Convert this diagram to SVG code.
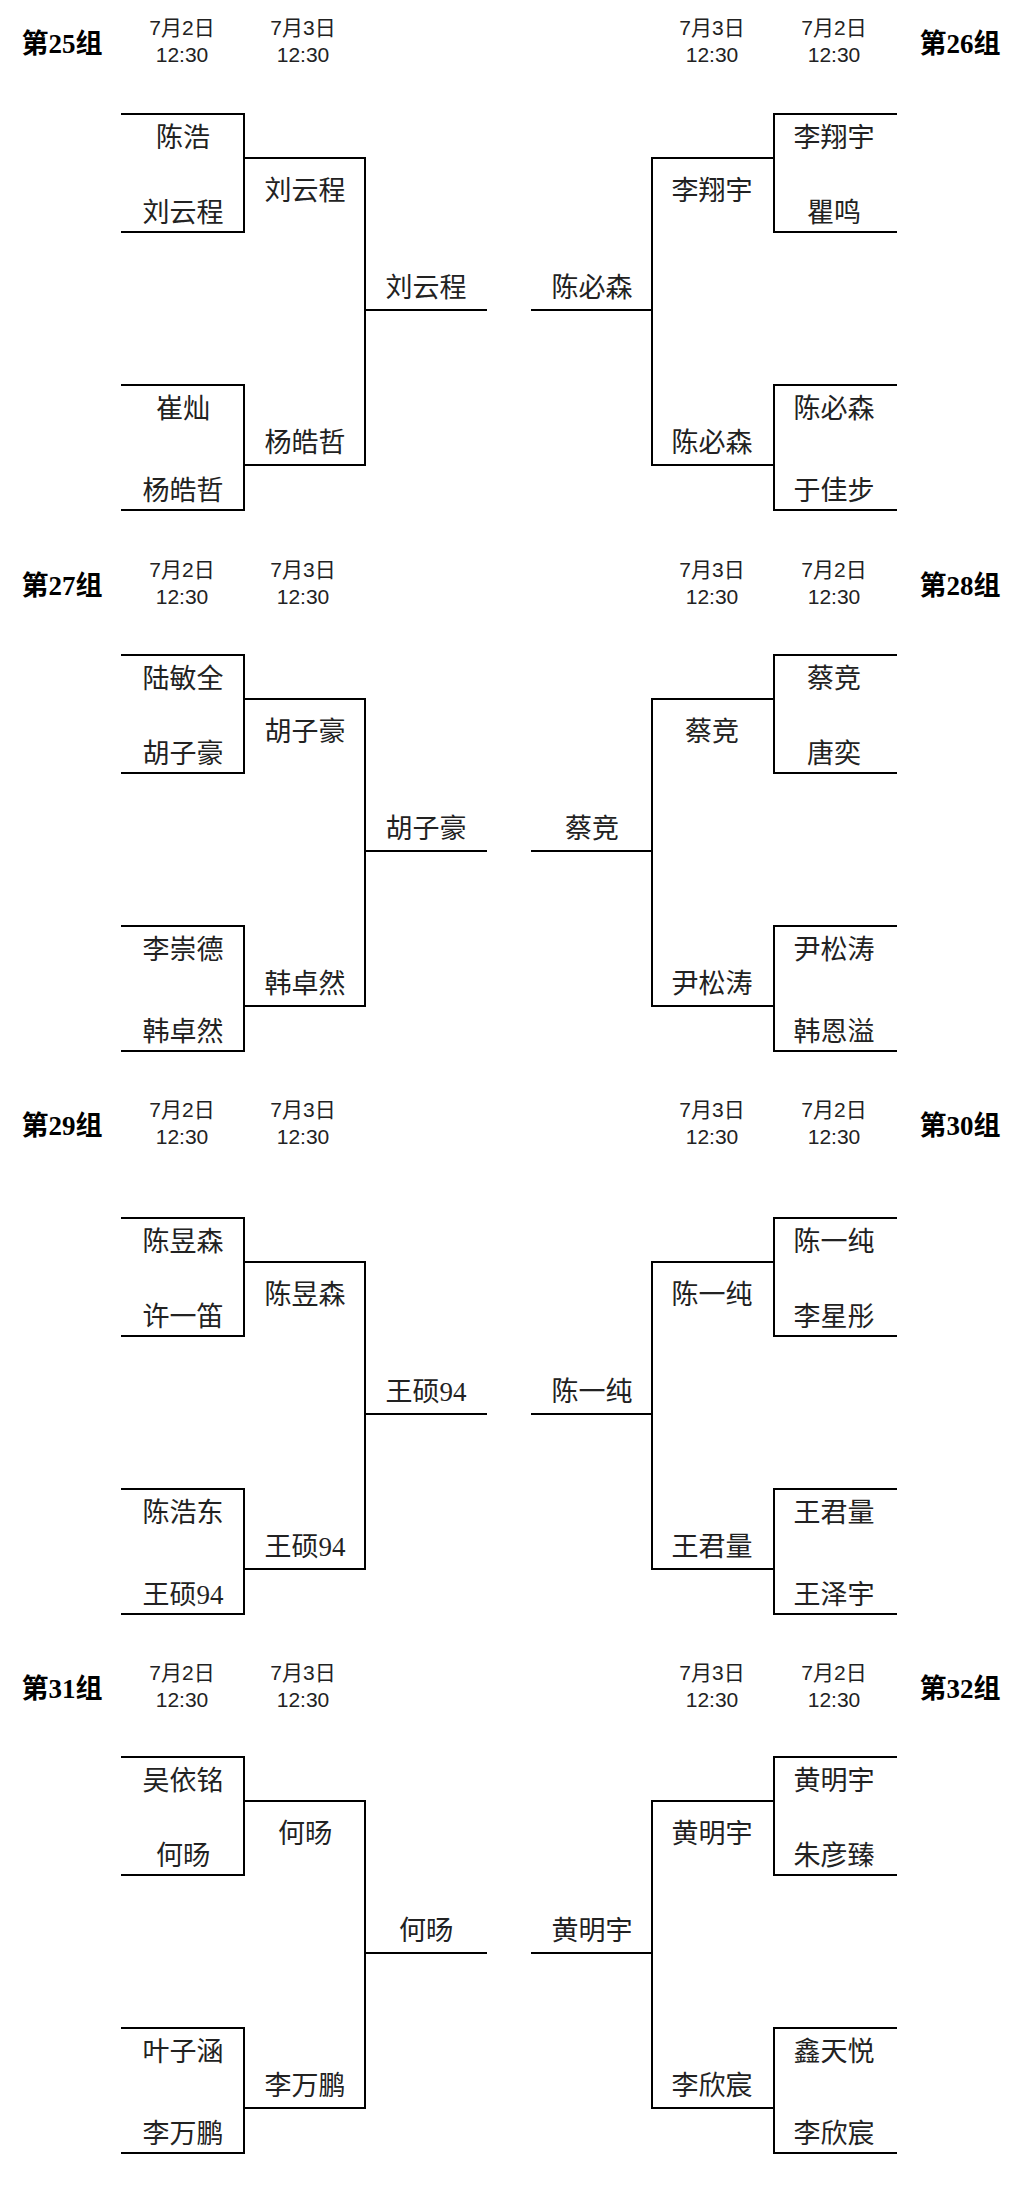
<svg xmlns="http://www.w3.org/2000/svg" width="1025" height="2189" viewBox="0 0 1025 2189">
<style>
.l{fill:none;stroke:#000;stroke-width:2}
.n{font-family:"Liberation Serif","Noto Sans CJK SC",serif;font-size:27px;fill:#222;text-anchor:middle}
.d{font-family:"Liberation Sans","Noto Sans CJK SC",sans-serif;font-size:21px;fill:#222;text-anchor:middle}
.t{font-family:"Liberation Serif","Noto Sans CJK SC",serif;font-size:27px;font-weight:bold;fill:#000;text-anchor:middle}
</style>
<defs>
<path id="lb" class="l" d="M121 114H244V232H121M121 385H244V510H121M244 158H365V465H244M365 310H487"/>
<path id="rb" class="l" d="M897 114H774V232H897M897 385H774V510H897M774 158H652V465H774M652 310H531"/>
<g id="hd">
<text class="d" x="182" y="35">7月2日</text><text class="d" x="182" y="62">12:30</text>
<text class="d" x="303" y="35">7月3日</text><text class="d" x="303" y="62">12:30</text>
<text class="d" x="712" y="35">7月3日</text><text class="d" x="712" y="62">12:30</text>
<text class="d" x="834" y="35">7月2日</text><text class="d" x="834" y="62">12:30</text>
</g>
</defs>
<rect width="1025" height="2189" fill="#fff"/>
<g id="connectors">
<use href="#lb"/><use href="#rb"/>
<use href="#lb" y="541"/><use href="#rb" y="541"/>
<use href="#lb" y="1104"/><use href="#rb" y="1104"/>
<use href="#lb" y="1643"/><use href="#rb" y="1643"/>
</g>
<g id="headers">
<use href="#hd"/>
<text class="t" x="62" y="53">第25组</text><text class="t" x="960" y="53">第26组</text>
<g transform="translate(0,542)"><use href="#hd"/>
<text class="t" x="62" y="53">第27组</text><text class="t" x="960" y="53">第28组</text></g>
<g transform="translate(0,1082)"><use href="#hd"/>
<text class="t" x="62" y="53">第29组</text><text class="t" x="960" y="53">第30组</text></g>
<g transform="translate(0,1645)"><use href="#hd"/>
<text class="t" x="62" y="53">第31组</text><text class="t" x="960" y="53">第32组</text></g>
</g>
<g id="group25">
<text class="n" x="183" y="147">陈浩</text><text class="n" x="183" y="222">刘云程</text>
<text class="n" x="183" y="418">崔灿</text><text class="n" x="183" y="500">杨皓哲</text>
<text class="n" x="305" y="200">刘云程</text><text class="n" x="305" y="452">杨皓哲</text>
<text class="n" x="426" y="297">刘云程</text>
</g>
<g id="group26">
<text class="n" x="834" y="147">李翔宇</text><text class="n" x="834" y="222">瞿鸣</text>
<text class="n" x="834" y="418">陈必森</text><text class="n" x="834" y="500">于佳步</text>
<text class="n" x="712" y="200">李翔宇</text><text class="n" x="712" y="452">陈必森</text>
<text class="n" x="592" y="297">陈必森</text>
</g>
<g id="group27" transform="translate(0,541)">
<text class="n" x="183" y="147">陆敏全</text><text class="n" x="183" y="222">胡子豪</text>
<text class="n" x="183" y="418">李崇德</text><text class="n" x="183" y="500">韩卓然</text>
<text class="n" x="305" y="200">胡子豪</text><text class="n" x="305" y="452">韩卓然</text>
<text class="n" x="426" y="297">胡子豪</text>
</g>
<g id="group28" transform="translate(0,541)">
<text class="n" x="834" y="147">蔡竞</text><text class="n" x="834" y="222">唐奕</text>
<text class="n" x="834" y="418">尹松涛</text><text class="n" x="834" y="500">韩恩溢</text>
<text class="n" x="712" y="200">蔡竞</text><text class="n" x="712" y="452">尹松涛</text>
<text class="n" x="592" y="297">蔡竞</text>
</g>
<g id="group29" transform="translate(0,1104)">
<text class="n" x="183" y="147">陈昱森</text><text class="n" x="183" y="222">许一笛</text>
<text class="n" x="183" y="418">陈浩东</text><text class="n" x="183" y="500">王硕94</text>
<text class="n" x="305" y="200">陈昱森</text><text class="n" x="305" y="452">王硕94</text>
<text class="n" x="426" y="297">王硕94</text>
</g>
<g id="group30" transform="translate(0,1104)">
<text class="n" x="834" y="147">陈一纯</text><text class="n" x="834" y="222">李星彤</text>
<text class="n" x="834" y="418">王君量</text><text class="n" x="834" y="500">王泽宇</text>
<text class="n" x="712" y="200">陈一纯</text><text class="n" x="712" y="452">王君量</text>
<text class="n" x="592" y="297">陈一纯</text>
</g>
<g id="group31" transform="translate(0,1643)">
<text class="n" x="183" y="147">吴依铭</text><text class="n" x="183" y="222">何旸</text>
<text class="n" x="183" y="418">叶子涵</text><text class="n" x="183" y="500">李万鹏</text>
<text class="n" x="305" y="200">何旸</text><text class="n" x="305" y="452">李万鹏</text>
<text class="n" x="426" y="297">何旸</text>
</g>
<g id="group32" transform="translate(0,1643)">
<text class="n" x="834" y="147">黄明宇</text><text class="n" x="834" y="222">朱彦臻</text>
<text class="n" x="834" y="418">鑫天悦</text><text class="n" x="834" y="500">李欣宸</text>
<text class="n" x="712" y="200">黄明宇</text><text class="n" x="712" y="452">李欣宸</text>
<text class="n" x="592" y="297">黄明宇</text>
</g>
</svg>
